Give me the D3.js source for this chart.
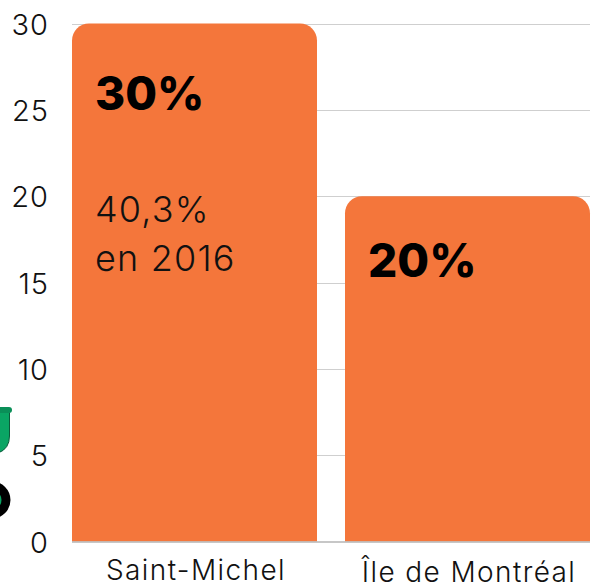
<!DOCTYPE html>
<html><head><meta charset="utf-8">
<script src="https://cdnjs.cloudflare.com/ajax/libs/d3/7.8.5/d3.min.js"></script>
<style>html,body{margin:0;padding:0;background:#fff}svg{display:block}text{font-family:Inter,Lato,sans-serif;fill:#111}</style>
</head><body><svg id="c" width="591" height="585"></svg>
<script>
const categories = ["Saint-Michel", "Île de Montréal"];
const values = [30, 20];
const valueLabels = ["30%", "20%"];
const noteLines = ["40,3%", "en 2016"];
const tickValues = [0, 5, 10, 15, 20, 25, 30];

const svg = d3.select("#c");
const x = d3.scaleBand().domain(categories).range([72, 590]).paddingInner(28 / 273).paddingOuter(0);
const y = d3.scaleLinear().domain([0, 30]).range([541.5, 23.5]);

svg.append("g").selectAll("line").data(tickValues.filter(d => d > 0)).join("line")
  .attr("x1", 72).attr("x2", 590)
  .attr("y1", d => Math.round(y(d)) + .5).attr("y2", d => Math.round(y(d)) + .5)
  .attr("stroke", "#cfcfcf").attr("stroke-width", 1);

const r = 17;
svg.append("g").selectAll("path").data(values).join("path")
  .attr("fill", "#f4763b")
  .attr("d", (d, i) => {
    const x0 = x(categories[i]), x1 = x0 + x.bandwidth(), t = y(d), b = y(0);
    return `M${x0},${b}V${t + r}A${r},${r} 0 0 1 ${x0 + r},${t}H${x1 - r}A${r},${r} 0 0 1 ${x1},${t + r}V${b}Z`;
  });

svg.append("line").attr("x1", 72).attr("x2", 590).attr("y1", 542).attr("y2", 542)
  .attr("stroke", "#b5b5b5").attr("stroke-width", 1.5);

svg.append("g").selectAll("text").data(tickValues).join("text")
  .attr("x", 49).attr("y", d => y(d) + 11)
  .attr("text-anchor", "end").attr("font-size", 29).attr("font-weight", 300)
  .attr("letter-spacing", 1)
  .text(d => d);

svg.append("g").selectAll("text").data(categories).join("text")
  .attr("x", (d, i) => [196, 469][i]).attr("y", (d, i) => [580, 582][i])
  .attr("text-anchor", "middle").attr("font-size", 28).attr("font-weight", 300)
  .attr("letter-spacing", 1.4)
  .text(d => d);

svg.append("g").selectAll("text").data(valueLabels).join("text")
  .attr("x", (d, i) => x(categories[i]) + 23).attr("y", (d, i) => [110, 277][i])
  .attr("font-size", 46).attr("font-weight", 800).style("fill", "#000")
  .text(d => d);

svg.append("g").selectAll("text").data(noteLines).join("text")
  .attr("x", 95).attr("y", (d, i) => 222 + i * 49)
  .attr("font-size", 36).attr("font-weight", 300)
  .attr("letter-spacing", 1.2)
  .text(d => d);

// cropped pictogram fragments on the left edge
const icon = svg.append("g");
icon.append("path").attr("fill", "#0aa564").attr("stroke", "#0b5a3a").attr("stroke-width", 1)
  .attr("d", "M-2,411H9.5V436Q9.5,449 -2,453Z");
icon.append("rect").attr("x", -2).attr("y", 407).attr("width", 14).attr("height", 6).attr("rx", 3).attr("fill", "#0a8f58");
icon.append("circle").attr("cx", -8).attr("cy", 500).attr("r", 14).attr("fill", "#0aa564").attr("stroke", "#000").attr("stroke-width", 9);
</script></body></html>
